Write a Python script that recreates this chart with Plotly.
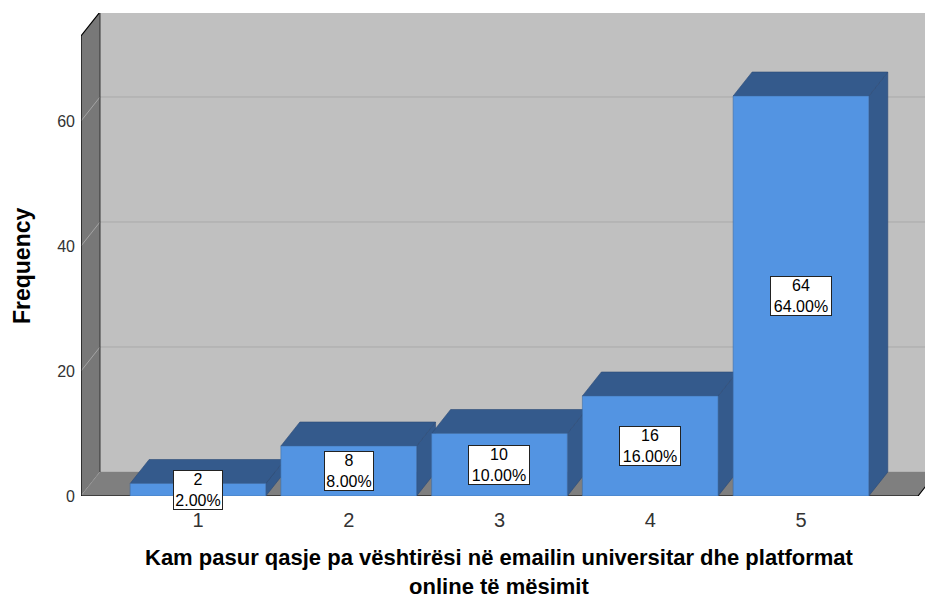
import plotly.graph_objects as go

# ---- data ----
categories = [1, 2, 3, 4, 5]
category_labels = ["1", "2", "3", "4", "5"]
frequencies = [2, 8, 10, 16, 64]
percents = [2.00, 8.00, 10.00, 16.00, 64.00]
y_ticks = [0, 20, 40, 60]
x_title_lines = ["Kam pasur qasje pa vështirësi në emailin universitar dhe platformat",
                 "online të mësimit"]
y_title = "Frequency"

# ---- 3D styling parameters (in axis units) ----
DX = 0.126        # depth offset along x
DY = 3.84         # depth offset along y
BAR_W = 0.9
X0, X1 = 0.224, 5.776   # front extent of floor
YMAX = 73.6             # front top of the wall

FRONT = "#5394e2"
DARK = "#345a8c"
BACK = "#c0c0c0"
WALL = "#787878"
FLOOR = "#7f7f7f"
GRID = "#a9a9a9"
FONT = "Arial, Liberation Sans, sans-serif"

fig = go.Figure()


def poly(xs, ys, fill, line_color=None, lw=0):
    fig.add_trace(go.Scatter(
        x=xs + [xs[0]], y=ys + [ys[0]], mode="lines", fill="toself",
        fillcolor=fill, line=dict(color=line_color or fill, width=lw),
        hoverinfo="skip", showlegend=False))


def line(xs, ys, color, width=1):
    fig.add_trace(go.Scatter(
        x=xs, y=ys, mode="lines", line=dict(color=color, width=width),
        hoverinfo="skip", showlegend=False))


# back wall
poly([X0 + DX, X1 + DX, X1 + DX, X0 + DX], [DY, DY, YMAX + DY, YMAX + DY], BACK)
# left wall
poly([X0, X0 + DX, X0 + DX, X0], [0, DY, YMAX + DY, YMAX], WALL)
# gridlines
for t in y_ticks:
    line([X0 + DX, X1 + DX], [t + DY, t + DY], GRID, 1)
    line([X0, X0 + DX], [t, t + DY], "#a4a4a4", 1)
# floor
poly([X0, X1, X1 + DX, X0 + DX], [0, 0, DY, DY], FLOOR)
# outlines
line([X0, X0, X0 + DX, X1 + DX], [0, YMAX, YMAX + DY, YMAX + DY], "#000000", 1.2)
line([X0 + DX, X0 + DX], [DY, YMAX + DY], "#333333", 1)
line([X0, X1, X1 + DX], [0, 0, DY], "#000000", 1.2)

# bars
for c, v in zip(categories, frequencies):
    xl, xr = c - BAR_W / 2, c + BAR_W / 2
    poly([xr, xr + DX, xr + DX, xr], [0, DY, v + DY, v], DARK, "#2b4a75", 0.6)
    poly([xl, xr, xr + DX, xl + DX], [v, v, v + DY, v + DY], DARK, "#2b4a75", 0.6)
    poly([xl, xr, xr, xl], [0, 0, v, v], FRONT, "#3f6fa8", 0.6)

# value labels
for c, v, p in zip(categories, frequencies, percents):
    pct = f"{p:.2f}%"
    fig.add_annotation(
        x=c, y=v / 2, xref="x", yref="y", text=f"{v}<br>{pct}",
        showarrow=False, font=dict(family=FONT, size=16, color="#000"),
        bgcolor="#ffffff", bordercolor="#222222", borderwidth=1, borderpad=0,
        width=12 * len(pct) - 12, align="center")

# axis titles
fig.add_annotation(
    x=0.4964, y=-0.2165, xref="paper", yref="paper",
    text="<b>" + "<br>".join(x_title_lines) + "</b>",
    showarrow=False, xanchor="center", yanchor="bottom", align="center",
    font=dict(family=FONT, size=22, color="#000"))
fig.add_annotation(
    x=-0.070, y=0.478, xref="paper", yref="paper", text=f"<b>{y_title}</b>",
    showarrow=False, textangle=-90, xanchor="center", yanchor="middle",
    font=dict(family=FONT, size=23, color="#000"))

fig.update_layout(
    width=925, height=602,
    margin=dict(l=81, r=0, t=13, b=106),
    paper_bgcolor="#ffffff", plot_bgcolor="#ffffff",
    showlegend=False,
    font=dict(family=FONT),
)
fig.update_xaxes(
    range=[X0, X0 + 844 / 150.75], tickvals=categories, ticktext=category_labels,
    showgrid=False, zeroline=False, showline=False, ticks="",
    tickfont=dict(size=20, color="#333333"), ticklabelstandoff=10)
fig.update_yaxes(
    range=[0, 77.28], tickvals=y_ticks, showgrid=False, zeroline=False,
    showline=False, ticks="", tickfont=dict(size=16, color="#333333"),
    ticklabelstandoff=5)

fig.write_html("out.html", config={"displayModeBar": False},
               post_script="document.body.style.margin='0';")
